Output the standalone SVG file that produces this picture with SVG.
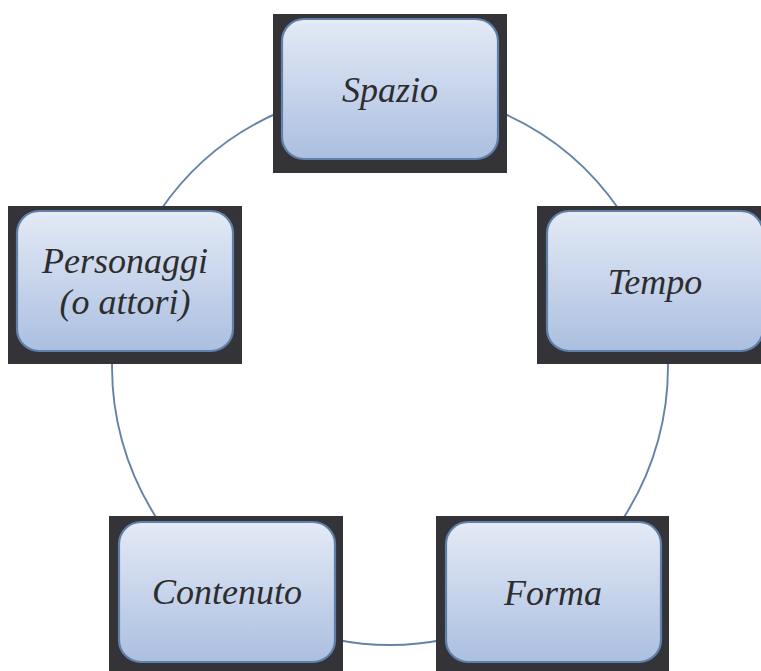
<svg xmlns="http://www.w3.org/2000/svg" width="761" height="671" viewBox="0 0 761 671">
  <defs>
    <linearGradient id="boxFill" x1="0" y1="0" x2="0" y2="1">
      <stop offset="0" stop-color="#e4eaf6"/>
      <stop offset="1" stop-color="#abbfe0"/>
    </linearGradient>
    <style>
      .back { fill: #333338; }
      .box { fill: url(#boxFill); stroke: #5f80a8; stroke-width: 2.2; }
      .label { font-family: "Liberation Serif", "Times New Roman", serif; font-style: italic; font-size: 36px; fill: #2d2d2f; text-anchor: middle; }
      .link { fill: none; stroke: #6482a8; stroke-width: 1.9; }
    </style>
  </defs>
  <rect width="761" height="671" fill="#ffffff"/>

  <!-- ring of arcs joining the boxes (circle centre 390,367, r 278) -->
  <g id="connectors">
    <path class="link" d="M498,111 A278,278 0 0 1 620.1,211"/>
    <path class="link" d="M667.5,351 A278,278 0 0 1 620.8,522"/>
    <path class="link" d="M446,639.3 A278,278 0 0 1 335,639.5"/>
    <path class="link" d="M159.2,522 A278,278 0 0 1 112.5,351"/>
    <path class="link" d="M159.9,211 A278,278 0 0 1 282,111"/>
  </g>

  <g id="spazio">
    <rect class="back" x="273" y="14" width="234" height="159"/>
    <rect class="box" x="282" y="19" width="216" height="140" rx="22"/>
    <text class="label" x="390" y="102">Spazio</text>
  </g>

  <g id="tempo">
    <rect class="back" x="537" y="206" width="234" height="158"/>
    <rect class="box" x="547" y="211" width="216" height="140" rx="22"/>
    <text class="label" x="655" y="294">Tempo</text>
  </g>

  <g id="forma">
    <rect class="back" x="436" y="516" width="233" height="160"/>
    <rect class="box" x="446" y="522" width="215" height="140" rx="22"/>
    <text class="label" x="553" y="605">Forma</text>
  </g>

  <g id="contenuto">
    <rect class="back" x="109" y="516" width="234" height="160"/>
    <rect class="box" x="119" y="522" width="216" height="140" rx="22"/>
    <text class="label" x="227" y="604">Contenuto</text>
  </g>

  <g id="personaggi">
    <rect class="back" x="8" y="206" width="234" height="158"/>
    <rect class="box" x="17" y="211" width="216" height="140" rx="22"/>
    <text class="label" x="125" y="273">Personaggi</text>
    <text class="label" x="125" y="314">(o attori)</text>
  </g>
</svg>
